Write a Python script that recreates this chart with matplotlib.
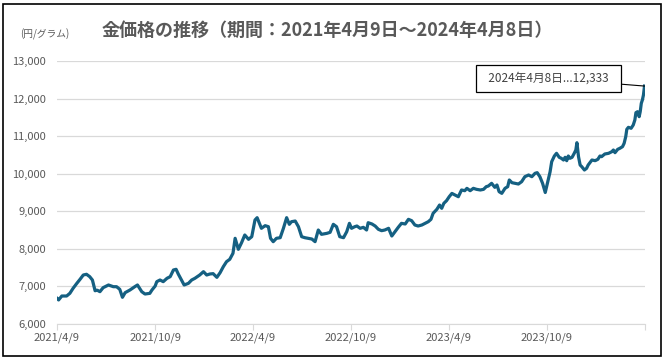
import pandas as pd
import matplotlib.pyplot as plt
from matplotlib.patches import Rectangle

plt.rcParams['font.family'] = ['Noto Sans CJK JP', 'DejaVu Sans']

# 金価格（円/グラム）-
dates = [
    '2021-04-09', '2021-04-12', '2021-04-18', '2021-04-27', '2021-05-03', '2021-05-09',
    '2021-05-16', '2021-05-22', '2021-05-28', '2021-06-03', '2021-06-09', '2021-06-14',
    '2021-06-19', '2021-06-23', '2021-06-28', '2021-07-04', '2021-07-14', '2021-07-23',
    '2021-07-29', '2021-08-04', '2021-08-09', '2021-08-14', '2021-08-23', '2021-09-01',
    '2021-09-06', '2021-09-14', '2021-09-20', '2021-09-29', '2021-10-03', '2021-10-09',
    '2021-10-12', '2021-10-18', '2021-10-24', '2021-10-31', '2021-11-06', '2021-11-12',
    '2021-11-17', '2021-11-21', '2021-11-27', '2021-12-02', '2021-12-10', '2021-12-16',
    '2021-12-22', '2021-12-31', '2022-01-07', '2022-01-13', '2022-01-19', '2022-01-25',
    '2022-02-01', '2022-02-07', '2022-02-13', '2022-02-19', '2022-02-25', '2022-03-03',
    '2022-03-07', '2022-03-13', '2022-03-19', '2022-03-25', '2022-04-01', '2022-04-07',
    '2022-04-13', '2022-04-17', '2022-04-25', '2022-05-02', '2022-05-08', '2022-05-12',
    '2022-05-17', '2022-05-23', '2022-05-30', '2022-06-05', '2022-06-11', '2022-06-16',
    '2022-06-20', '2022-06-27', '2022-07-03', '2022-07-09', '2022-07-15', '2022-07-21',
    '2022-07-28', '2022-08-03', '2022-08-09', '2022-08-15', '2022-08-25', '2022-08-31',
    '2022-09-06', '2022-09-12', '2022-09-18', '2022-09-25', '2022-10-01', '2022-10-06',
    '2022-10-10', '2022-10-16', '2022-10-20', '2022-10-26', '2022-11-01', '2022-11-07',
    '2022-11-10', '2022-11-17', '2022-11-23', '2022-11-29', '2022-12-05', '2022-12-11',
    '2022-12-18', '2022-12-24', '2022-12-30', '2023-01-05', '2023-01-11', '2023-01-18',
    '2023-01-24', '2023-01-30', '2023-02-05', '2023-02-11', '2023-02-18', '2023-02-24',
    '2023-03-02', '2023-03-07', '2023-03-11', '2023-03-18', '2023-03-23', '2023-03-27',
    '2023-03-31', '2023-04-05', '2023-04-10', '2023-04-15', '2023-04-21', '2023-04-27',
    '2023-05-03', '2023-05-09', '2023-05-13', '2023-05-19', '2023-05-25', '2023-05-31',
    '2023-06-07', '2023-06-13', '2023-06-18', '2023-06-22', '2023-06-28', '2023-07-04',
    '2023-07-08', '2023-07-12', '2023-07-17', '2023-07-23', '2023-07-28', '2023-07-31',
    '2023-08-05', '2023-08-11', '2023-08-17', '2023-08-23', '2023-08-29', '2023-09-05',
    '2023-09-11', '2023-09-17', '2023-09-21', '2023-09-26', '2023-10-01', '2023-10-06',
    '2023-10-10', '2023-10-15', '2023-10-18', '2023-10-23', '2023-10-27', '2023-11-01',
    '2023-11-05', '2023-11-09', '2023-11-12', '2023-11-15', '2023-11-18', '2023-11-21',
    '2023-11-25', '2023-11-29', '2023-12-02', '2023-12-04', '2023-12-07', '2023-12-10',
    '2023-12-13', '2023-12-18', '2023-12-22', '2023-12-25', '2024-01-01', '2024-01-07',
    '2024-01-12', '2024-01-16', '2024-01-19', '2024-01-25', '2024-02-01', '2024-02-07',
    '2024-02-10', '2024-02-13', '2024-02-18', '2024-02-22', '2024-02-27', '2024-03-01',
    '2024-03-04', '2024-03-06', '2024-03-09', '2024-03-14', '2024-03-18', '2024-03-21',
    '2024-03-23', '2024-03-26', '2024-03-29', '2024-03-31', '2024-04-02', '2024-04-04',
    '2024-04-06', '2024-04-07', '2024-04-08',
]
prices = [
    6684, 6640, 6745, 6745, 6817, 6950,
    7083, 7190, 7304, 7323, 7260, 7171,
    6886, 6900, 6860, 6967, 7038, 6993,
    6993, 6923, 6710, 6834, 6905, 6993,
    7038, 6860, 6798, 6816, 6905, 7011,
    7127, 7171, 7127, 7216, 7260, 7437,
    7456, 7331, 7171, 7038, 7083, 7171,
    7216, 7304, 7393, 7304, 7331, 7340,
    7242, 7366, 7526, 7659, 7722, 7882,
    8281, 7988, 8164, 8369, 8254, 8324,
    8768, 8830, 8547, 8617, 8590, 8281,
    8191, 8281, 8297, 8547, 8830, 8653,
    8723, 8741, 8590, 8324, 8297, 8281,
    8262, 8191, 8502, 8387, 8413, 8440,
    8653, 8590, 8324, 8297, 8457, 8679,
    8547, 8590, 8608, 8547, 8573, 8502,
    8696, 8662, 8608, 8520, 8484, 8502,
    8547, 8342, 8457, 8573, 8679, 8662,
    8786, 8750, 8635, 8608, 8635, 8679,
    8723, 8786, 8946, 9053, 9167, 9079,
    9212, 9282, 9388, 9476, 9433, 9388,
    9567, 9548, 9611, 9548, 9611, 9584,
    9567, 9584, 9655, 9673, 9744, 9638,
    9700, 9522, 9478, 9611, 9655, 9833,
    9761, 9744, 9726, 9788, 9921, 9966,
    9921, 10011, 10028, 9921, 9744, 9500,
    9744, 10050, 10320, 10472, 10543, 10437,
    10410, 10365, 10437, 10347, 10472, 10410,
    10437, 10543, 10631, 10826, 10454, 10232,
    10188, 10099, 10143, 10232, 10365, 10347,
    10383, 10472, 10454, 10525, 10543, 10586,
    10631, 10560, 10649, 10676, 10720, 10809,
    10986, 11182, 11235, 11209, 11297, 11430,
    11625, 11651, 11518, 11651, 11874, 11962,
    12095, 12210, 12333,
]
tick_dates = ['2021-04-09', '2021-10-09', '2022-04-09', '2022-10-09',
              '2023-04-09', '2023-10-09', '2024-04-09']
tick_labels = ['2021/4/9', '2021/10/9', '2022/4/9', '2022/10/9',
               '2023/4/9', '2023/10/9', '']
yticks = [6000, 7000, 8000, 9000, 10000, 11000, 12000, 13000]

x = pd.to_datetime(dates)
gray = '#595959'

fig = plt.figure(figsize=(6.65, 3.61), dpi=100)
ax = fig.add_axes([0.0857, 0.1025, 0.8843, 0.7285])

ax.plot(x, prices, color='#156082', linewidth=2.3, solid_joinstyle='round')

ax.set_xlim(pd.Timestamp('2021-04-09'), pd.Timestamp('2024-04-09'))
ax.set_ylim(6000, 13000)
ax.set_yticks(yticks)
ax.set_yticklabels([f'{v:,}' for v in yticks])
ax.set_xticks(pd.to_datetime(tick_dates))
ax.set_xticklabels(tick_labels)
ax.grid(axis='y', color='#D9D9D9', linewidth=0.9)
ax.set_axisbelow(True)
for s in ['top', 'right', 'left']:
    ax.spines[s].set_visible(False)
ax.spines['bottom'].set_color('#D9D9D9')
ax.tick_params(axis='y', length=0, labelsize=8, labelcolor=gray, pad=8)
ax.tick_params(axis='x', length=4, color='#D9D9D9', labelsize=8, labelcolor=gray, pad=2)

fig.text(0.492, 0.917, '金価格の推移（期間：2021年4月9日～2024年4月8日）',
         ha='center', va='center', fontsize=13, fontweight='bold', color=gray)
fig.text(0.068, 0.905, '(円/グラム)', ha='center', va='center', fontsize=7, color=gray)

# data label for the last point
ax.annotate('  2024年4月8日...12,333  ', xy=(x[-1], prices[-1]),
            xytext=(0.825, 0.783), textcoords='figure fraction',
            ha='center', va='center', fontsize=8.5, color='#404040',
            bbox=dict(boxstyle='square,pad=0.6', fc='white', ec='black', lw=0.9),
            arrowprops=dict(arrowstyle='-', color='black', lw=0.8,
                            shrinkA=0, shrinkB=0))

fig.patches.append(Rectangle((0.005, 0.014), 0.989, 0.975, transform=fig.transFigure,
                             fill=False, edgecolor='black', linewidth=1.2))

plt.savefig('out.png', dpi=100)
